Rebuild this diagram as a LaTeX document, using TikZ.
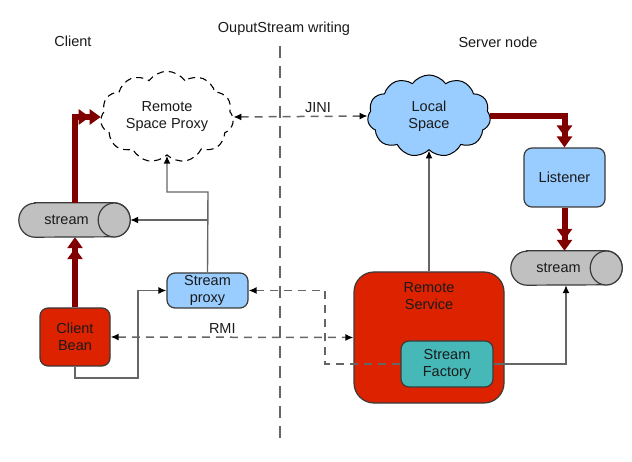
\documentclass[tikz,border=0pt]{standalone}
\usepackage{fontspec}
\setmainfont{Liberation Sans}
\usetikzlibrary{shapes.symbols,arrows.meta}
\definecolor{redfill}{HTML}{DD2200}
\definecolor{darkred}{HTML}{800000}
\definecolor{bluefill}{HTML}{99CCFF}
\definecolor{greyfill}{HTML}{C0C0C0}
\definecolor{tealfill}{HTML}{46B8B8}
\definecolor{linegrey}{HTML}{666666}
\definecolor{bordergrey}{HTML}{3A3A3A}
\definecolor{textdark}{HTML}{1A1A1A}
\begin{document}
\begin{tikzpicture}[x=1pt,y=1pt,
  font=\fontsize{14.5}{17}\selectfont, text=textdark,
  box/.style={draw=bordergrey, line width=1.2pt, rounded corners=8pt, align=center, inner sep=0pt},
  streambody/.style={inner sep=0pt, minimum width=95pt, minimum height=34pt},
  cylline/.style={draw=bordergrey, fill=greyfill, line width=1.2pt},
  cloudshape/.style={cloud, cloud puffs=11, cloud puff arc=110, aspect=1.5,
     inner sep=0pt, align=center},
  thickred/.style={draw=darkred, line width=6pt,
     -{Triangle[length=11pt,width=15pt]Triangle[length=11pt,width=15pt]}},
  conn/.style={draw=linegrey, line width=1.4pt, -{Latex[length=8pt,width=7pt,black]}},
  dashconn/.style={draw=linegrey, line width=1.5pt, dash pattern=on 8pt off 6pt},
  tipb/.style={-{Latex[length=8pt,width=7pt,black]}},
  tipab/.style={{Latex[length=8pt,width=7pt,black]}-{Latex[length=8pt,width=7pt,black]}},
  divider/.style={draw=linegrey, line width=1.6pt, dash pattern=on 12pt off 8pt},
  title/.style={inner sep=0pt}
]
\useasboundingbox (0,0) rectangle (632,-462);

% titles
\node[title] (tclient) at (73,-41) {Client};
\node[title] (twrite) at (284,-29) {OuputStream writing};
\node[title] (tserver) at (498,-42) {Server node};

% divider
\coordinate (dtop) at (280,-46);
\coordinate (dbot) at (280,-440);
\draw[divider] (dtop) -- (dbot);

% clouds
\node[cloudshape, draw=black, line width=1.1pt, dash pattern=on 7pt off 5pt, fill=white,
      minimum width=133pt, minimum height=87pt] (rsp) at (167,-117) {Remote\\Space Proxy};
\node[cloudshape, draw=black, line width=1pt, fill=bluefill,
      minimum width=123pt, minimum height=82pt] (ls) at (429,-116) {Local\\Space};

% listener
\node[box, fill=bluefill, minimum width=81pt, minimum height=59pt] (lst) at (564.5,-177.5) {Listener};

% stream cylinders (body node + drawn outline)
\newcommand{\streamcyl}[1]{%
  \path[cylline] ([xshift=16pt]#1.north west) -- ([xshift=0pt]#1.north east)
     arc[start angle=90, end angle=-90, x radius=16pt, y radius=17pt]
     -- ([xshift=16pt]#1.south west)
     arc[start angle=270, end angle=90, x radius=16pt, y radius=17pt] -- cycle;
  \path[cylline] (#1.east) ellipse[x radius=16pt, y radius=17pt];
}
\path (558.5,-268) node[streambody] (sR) {};
\path (66.5,-220) node[streambody] (sL) {};
\streamcyl{sR}
\streamcyl{sL}
\node[inner sep=0pt] (sRtext) at (sR) {stream};
\node[inner sep=0pt] (sLtext) at (sL) {stream};
\coordinate (sRtop) at ([xshift=6pt]sR.north);
\coordinate (sRbot) at ([xshift=7.5pt]sR.south);
\coordinate (sLtop) at ([xshift=8.5pt]sL.north);
\coordinate (sLbot) at ([xshift=8.5pt]sL.south);
\coordinate (sLright) at ([xshift=16pt]sL.east);

% boxes
\node[box, fill=redfill, minimum width=70pt, minimum height=58pt] (cb) at (75,-337) {Client\\Bean};
\node[box, fill=bluefill, minimum width=81pt, minimum height=35pt] (sp) at (207.5,-290.5) {Stream\\proxy};
\node[box, fill=redfill, rounded corners=20pt, minimum width=150pt, minimum height=131pt,
      label={[align=center, anchor=north, yshift=-8pt]north:{Remote\\Service}}] (rs) at (429,-337.5) {};
\node[box, fill=tealfill, minimum width=92pt, minimum height=46pt] (sf) at (447,-364) {Stream\\Factory};

% thick red flows
\draw[thickred] (sLtop) |- (rsp.west);
\draw[thickred] (cb.north) -- (sLbot);
\draw[thickred] (ls.east) -| (lst.north);
\draw[thickred] (lst.south) -- (sRtop);

% JINI
\draw[dashconn, tipab] (rsp.east) -- node[pos=0.63, above=2pt, inner sep=1pt] (jini) {JINI} (ls.west);

% stream proxy to proxy cloud and stream
\coordinate (j1) at (208,-192);
\coordinate (j2) at (208,-220);
\draw[conn] (sp.north) -- (j1) -| (rsp.south);
\draw[conn] (j2) -- (sLright);

% client bean to stream proxy
\coordinate (k1) at (138,-378);
\draw[conn] (cb.south) |- (k1) |- (sp.west);

% RMI
\draw[dashconn, tipab] (cb.east) -- node[pos=0.46, above=2pt, inner sep=1pt] (rmi) {RMI} (rs.west);

% factory back to stream proxy
\coordinate (m1) at (325,-364);
\draw[dashconn, tipb] (sf.west) -- (m1) |- (sp.east);

% factory to server stream
\draw[conn] (sf.east) -| (sRbot);

% remote service to local space
\draw[conn] (rs.north) -- (ls.south);
\end{tikzpicture}
\end{document}
